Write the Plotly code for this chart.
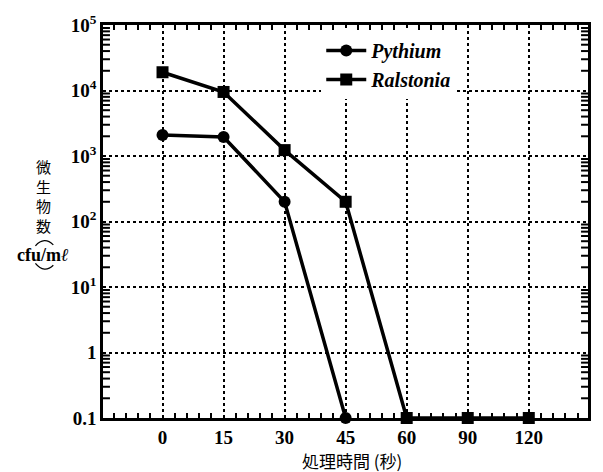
import math
import plotly.graph_objects as go

# treatment time categories (seconds)
times = ["0", "15", "30", "45", "60", "90", "120"]

# microbial counts (cfu/ml); 0.1 marks the detection floor
pythium_times = ["0", "15", "30", "45"]
pythium_counts = [2100, 1950, 200, 0.1]

ralstonia_times = ["0", "15", "30", "45", "60", "90", "120"]
ralstonia_counts = [19000, 9500, 1230, 200, 0.1, 0.1, 0.1]

y_tickvals = [0.1, 1, 10, 100, 1000, 10000, 100000]
y_ticktext = ["0.1", "1", "10<sup>1</sup>", "10<sup>2</sup>", "10<sup>3</sup>",
              "10<sup>4</sup>", "10<sup>5</sup>"]

pos = {t: i for i, t in enumerate(times)}

# minor tick positions: 2..9 within each decade, fifths between categories
y_minor = [k * 10.0 ** e for e in range(-1, 5) for k in range(2, 10)]
x_minor = [round(i + f / 5, 2) for i in range(-1, 7) for f in range(1, 5)]

SERIF = "Liberation Serif"
CJK = "Noto Sans CJK JP"
PLOT_W = 488  # plot-area width in px, used for tick lengths
Y_RANGE = [-1, 5]  # log10 limits of the count axis

fig = go.Figure()
fig.add_trace(go.Scatter(
    x=[pos[t] for t in pythium_times], y=pythium_counts,
    mode="lines+markers", name="Pythium",
    line=dict(color="black", width=3.5),
    marker=dict(symbol="circle", size=12, color="black"),
    cliponaxis=False,
))
fig.add_trace(go.Scatter(
    x=[pos[t] for t in ralstonia_times], y=ralstonia_counts,
    mode="lines+markers", name="Ralstonia",
    line=dict(color="black", width=3.5),
    marker=dict(symbol="square", size=12, color="black"),
    cliponaxis=False,
))

axis_common = dict(
    showline=True, linecolor="black", linewidth=2.5, mirror="allticks",
    ticks="inside", ticklen=0, tickcolor="black",
    showgrid=True, gridcolor="black", gridwidth=1.5, griddash="3px,3px",
    zeroline=False,
    tickfont=dict(family=SERIF, size=19, color="black", weight="bold"),
)

fig.update_xaxes(
    **axis_common,
    range=[-0.975, 6.97],
    tickmode="array", tickvals=list(range(len(times))), ticktext=times,
    minor=dict(ticks="inside", tickmode="array", tickvals=x_minor, ticklen=5,
               tickwidth=1.5, tickcolor="black", showgrid=False),
)
fig.update_yaxes(
    **axis_common,
    type="log", range=Y_RANGE,
    tickmode="array", tickvals=y_tickvals, ticktext=y_ticktext,
)

# log-decade minor ticks, inside on both vertical edges
tick_frac = 7 / PLOT_W
for v in y_minor:
    fy = (math.log10(v) - Y_RANGE[0]) / (Y_RANGE[1] - Y_RANGE[0])
    for xa, xb in ((0, tick_frac), (1 - tick_frac, 1)):
        fig.add_shape(type="line", xref="paper", yref="paper", layer="above",
                      x0=xa, x1=xb, y0=fy, y1=fy,
                      line=dict(color="black", width=2))


def px_to_paper(px, py):
    return (px - 103) / 488, (418 - py) / 404


# x-axis title
ax, ay = px_to_paper(354, 462)
fig.add_annotation(
    x=ax, y=ay, xref="paper", yref="paper", showarrow=False,
    xanchor="center", yanchor="middle", text="処理時間 (秒)",
    font=dict(family=CJK, size=17, color="black"),
)

# vertical y-axis title
ax, ay = px_to_paper(43, 190)
fig.add_annotation(
    x=ax, y=ay, xref="paper", yref="paper", showarrow=False,
    xanchor="center", yanchor="middle", text="微<br>生<br>物<br>数",
    font=dict(family=CJK, size=15, color="black"),
)
ax, ay = px_to_paper(43, 250)
fig.add_annotation(
    x=ax, y=ay, xref="paper", yref="paper", showarrow=False,
    xanchor="center", yanchor="middle",
    text="cfu/m<i>ℓ</i>", font=dict(family=SERIF, size=18, color="black", weight="bold"),
)

# rotated parentheses around the unit slash
x0, y0 = px_to_paper(35, 241)
xc, yc = px_to_paper(44, 231)
x1, y1 = px_to_paper(53, 240)
fig.add_shape(type="path", xref="paper", yref="paper",
              path=f"M {x0},{y0} Q {xc},{yc} {x1},{y1}",
              line=dict(color="black", width=1.3))
x0, y0 = px_to_paper(35, 259)
xc, yc = px_to_paper(44, 270)
x1, y1 = px_to_paper(53, 261)
fig.add_shape(type="path", xref="paper", yref="paper",
              path=f"M {x0},{y0} Q {xc},{yc} {x1},{y1}",
              line=dict(color="black", width=1.3))

fig.update_layout(
    width=603, height=472,
    margin=dict(l=103, r=12, t=14, b=54),
    paper_bgcolor="white", plot_bgcolor="white",
    showlegend=True,
    legend=dict(
        x=0.45, y=0.985, xanchor="left", yanchor="top",
        bgcolor="white", borderwidth=0,
        font=dict(family=SERIF, size=20, color="black", style="italic", weight="bold"),
        itemwidth=40, tracegroupgap=0,
    ),
)

fig.write_html("out.html")
